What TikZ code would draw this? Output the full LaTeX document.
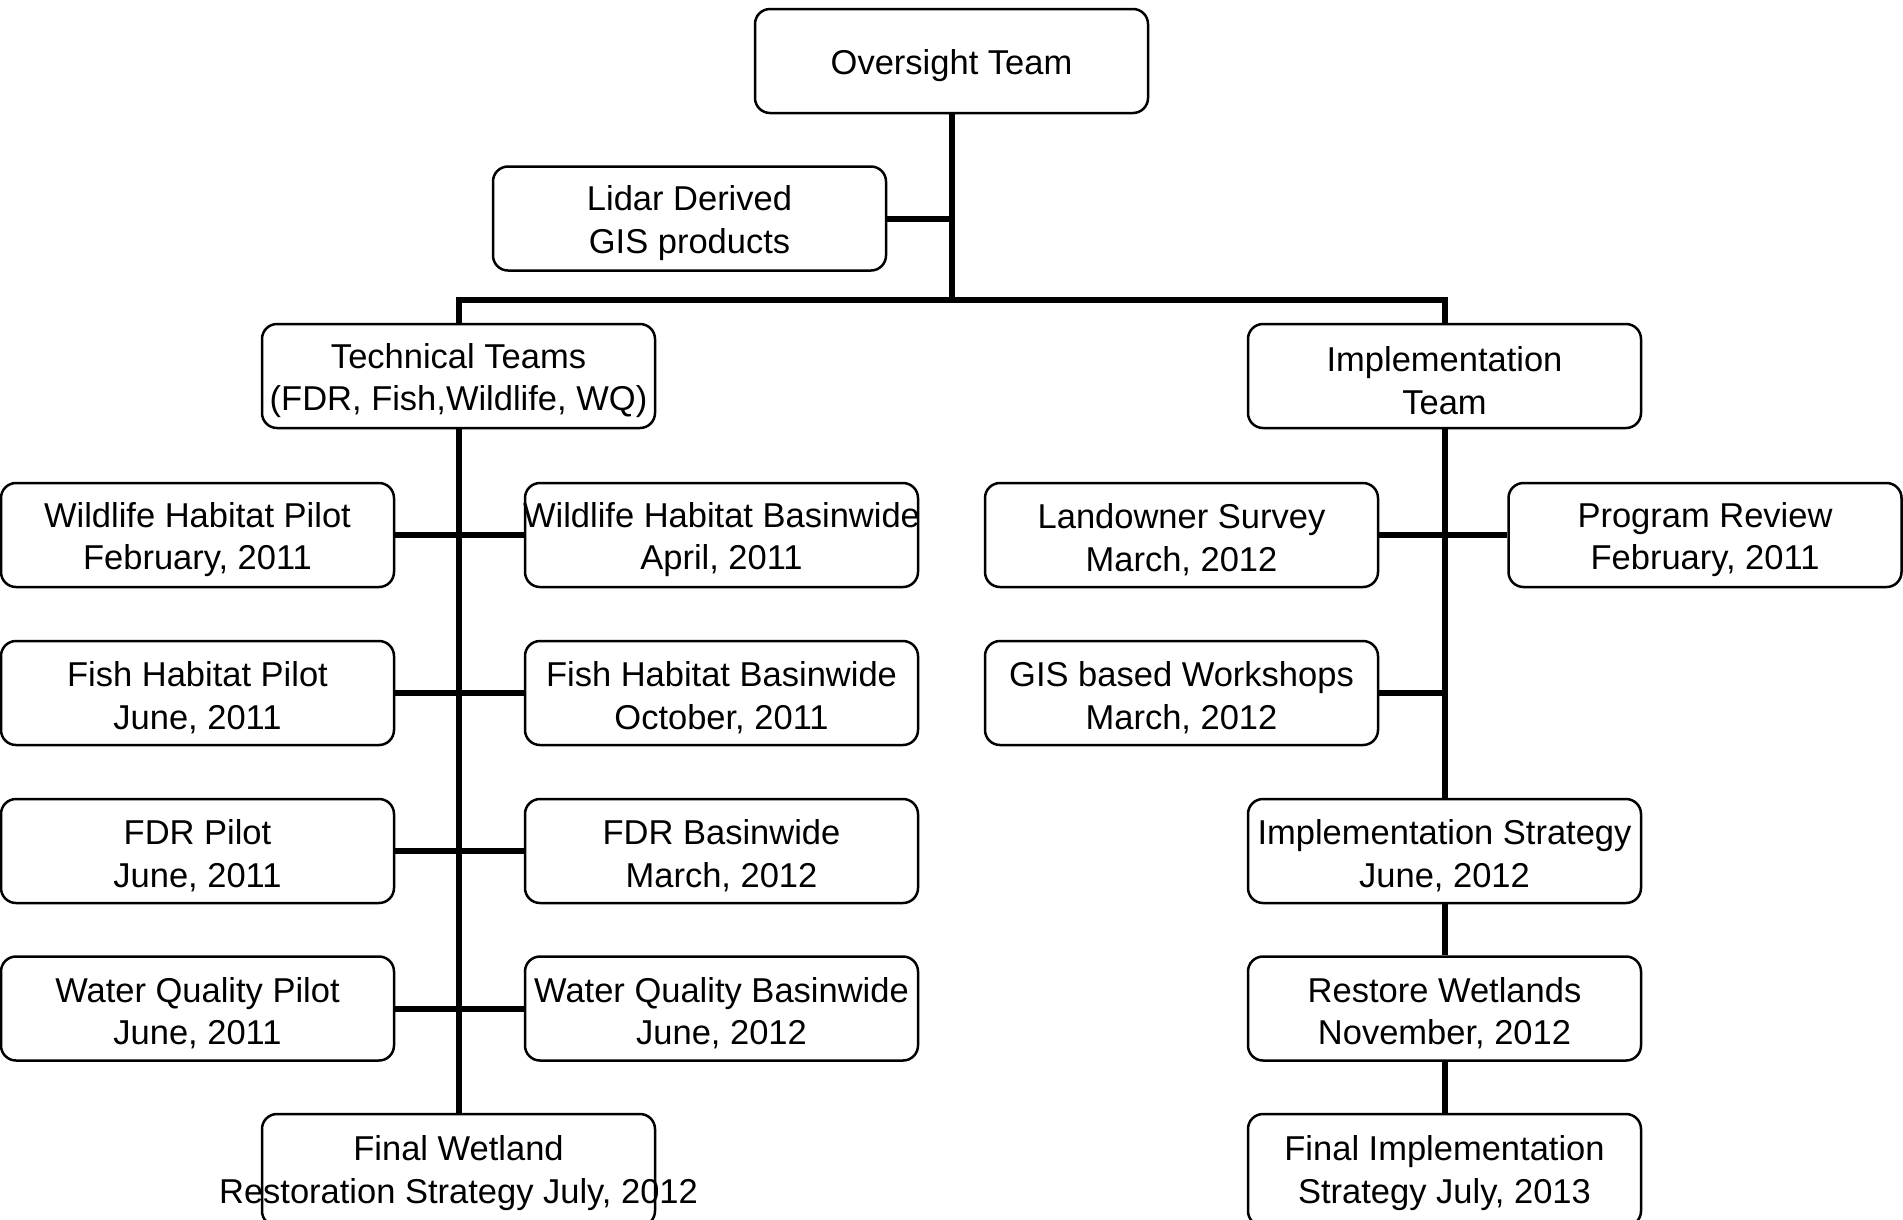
\documentclass[tikz,border=0pt]{standalone}
\usepackage{fontspec}
\setmainfont{Liberation Sans}
\begin{document}
\begin{tikzpicture}[x=1pt,y=-1pt,
  box/.style={draw, line width=2.5pt, rounded corners=15pt, minimum width=393pt,
    minimum height=104pt, inner sep=0pt},
  tallbox/.style={box, minimum height=112pt},
  txt/.style={inner sep=0pt, align=center, font=\fontsize{34.5}{42.5}\selectfont},
  conn/.style={line width=6pt}]
\useasboundingbox (0,0) rectangle (1903,1219);
% boxes
\node[box] (ov) at (951.5,61) {};
\node[box] (lid) at (689.5,218.5) {};
\node[box] (tt) at (458.5,376) {};
\node[box] (it) at (1444.5,376) {};
\node[box] (whp) at (197.5,535) {};
\node[box] (whb) at (721.5,535) {};
\node[box] (fhp) at (197.5,693) {};
\node[box] (fhb) at (721.5,693) {};
\node[box] (fdp) at (197.5,851) {};
\node[box] (fdb) at (721.5,851) {};
\node[box] (wqp) at (197.5,1008.5) {};
\node[box] (wqb) at (721.5,1008.5) {};
\node[tallbox] (fw) at (458.5,1170) {};
\node[box] (lo) at (1181.5,535) {};
\node[box] (pr) at (1705,535) {};
\node[box] (gis) at (1181.5,693) {};
\node[box] (is) at (1444.5,851) {};
\node[box] (rw) at (1444.5,1008.5) {};
\node[tallbox] (fi) at (1444.5,1170) {};
% texts
\node[txt] (ovt) at ([yshift=-5pt]ov.center) {Oversight Team};
\node[txt] (lidt) at ([yshift=-4.5pt]lid.center) {Lidar Derived\\ GIS products};
\node[txt] (ttt) at ([yshift=-4.5pt]tt.center) {Technical Teams\\(FDR, Fish,Wildlife, WQ)};
\node[txt] (itt) at ([yshift=-4.5pt]it.center) {Implementation\\Team};
\node[txt] (whpt) at ([yshift=-4.5pt]whp.center) {Wildlife Habitat Pilot\\February, 2011};
\node[txt] (whbt) at ([yshift=-4.5pt]whb.center) {Wildlife Habitat Basinwide\\April, 2011};
\node[txt] (fhpt) at ([yshift=-4.5pt]fhp.center) {Fish Habitat Pilot\\June, 2011};
\node[txt] (fhbt) at ([yshift=-4.5pt]fhb.center) {Fish Habitat Basinwide\\October, 2011};
\node[txt] (fdpt) at ([yshift=-4.5pt]fdp.center) {FDR Pilot\\June, 2011};
\node[txt] (fdbt) at ([yshift=-4.5pt]fdb.center) {FDR Basinwide\\March, 2012};
\node[txt] (wqpt) at ([yshift=-4.5pt]wqp.center) {Water Quality Pilot\\June, 2011};
\node[txt] (wqbt) at ([yshift=-4.5pt]wqb.center) {Water Quality Basinwide\\June, 2012};
\node[txt] (fwt) at ([yshift=-3pt]fw.center) {Final Wetland\\Restoration Strategy July, 2012};
\node[txt] (lot) at ([yshift=-4.5pt]lo.center) {Landowner Survey\\March, 2012};
\node[txt] (prt) at ([yshift=-4.5pt]pr.center) {Program Review\\February, 2011};
\node[txt] (gist) at ([yshift=-4.5pt]gis.center) {GIS based Workshops\\March, 2012};
\node[txt] (ist) at ([yshift=-4.5pt]is.center) {Implementation Strategy\\June, 2012};
\node[txt] (rwt) at ([yshift=-4.5pt]rw.center) {Restore Wetlands\\November, 2012};
\node[txt] (fit) at ([yshift=-3pt]fi.center) {Final Implementation\\Strategy July, 2013};
% connectors
\coordinate (j) at (951.5,300);
\draw[conn] (ov.south) -- (j);
\draw[conn] (lid.east) -- (lid.east -| j);
\draw[conn] (tt.north) -- (tt.north |- j) -- (it.north |- j) -- (it.north);
\draw[conn] (tt.south) -- (fw.north);
\draw[conn] (whp.east) -- (whb.west);
\draw[conn] (fhp.east) -- (fhb.west);
\draw[conn] (fdp.east) -- (fdb.west);
\draw[conn] (wqp.east) -- (wqb.west);
\draw[conn] (it.south) -- (is.north);
\draw[conn] (lo.east) -- (pr.west);
\draw[conn] (gis.east) -- (gis.east -| it.south);
\draw[conn] (is.south) -- (rw.north);
\draw[conn] (rw.south) -- (fi.north);
\end{tikzpicture}
\end{document}
